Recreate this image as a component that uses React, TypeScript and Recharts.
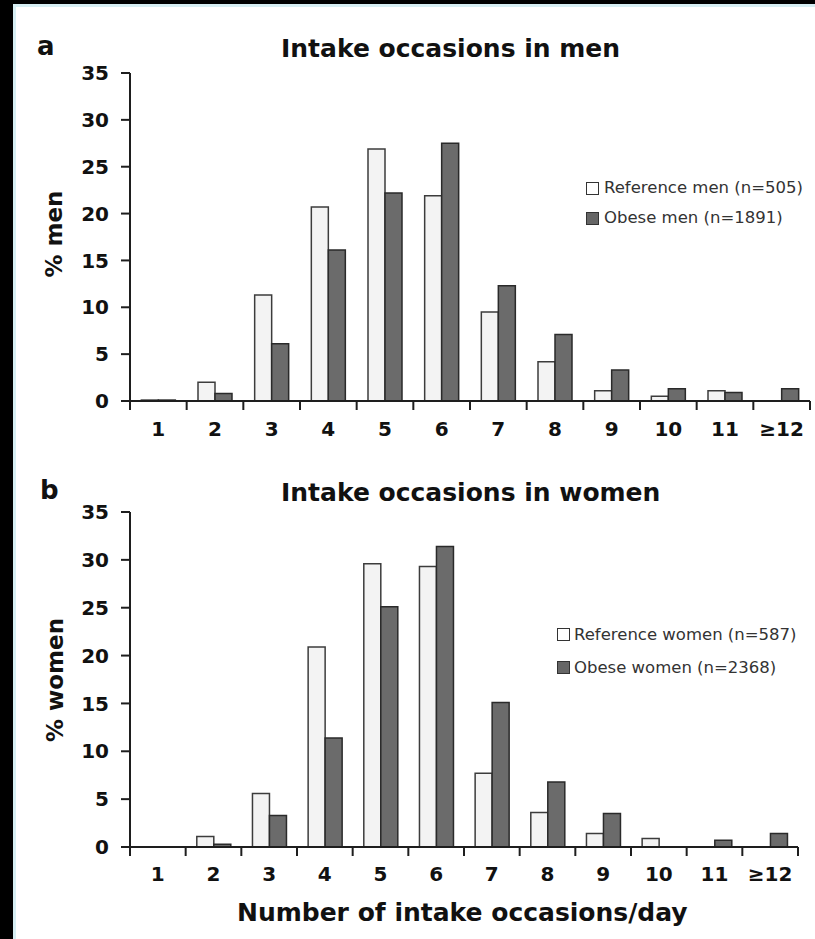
import React from 'react';
import { BarChart, Bar, XAxis, YAxis, Legend } from 'recharts';

const categories = ['1', '2', '3', '4', '5', '6', '7', '8', '9', '10', '11', '≥12'];
const menRef = [0.1, 2.0, 11.3, 20.7, 26.9, 21.9, 9.5, 4.2, 1.1, 0.5, 1.1, 0];
const menObese = [0.1, 0.8, 6.1, 16.1, 22.2, 27.5, 12.3, 7.1, 3.3, 1.3, 0.9, 1.3];
const womenRef = [0, 1.1, 5.6, 20.9, 29.6, 29.3, 7.7, 3.6, 1.4, 0.9, 0, 0];
const womenObese = [0, 0.3, 3.3, 11.4, 25.1, 31.4, 15.1, 6.8, 3.5, 0, 0.7, 1.4];
const yTicks = [0, 5, 10, 15, 20, 25, 30, 35];

const menData = categories.map((c, i) => ({ cat: c, refGroup: menRef[i], obeseGroup: menObese[i] }));
const womenData = categories.map((c, i) => ({ cat: c, refGroup: womenRef[i], obeseGroup: womenObese[i] }));

const FONT = '"DejaVu Sans", sans-serif';
const AX = '#1e1e1e';
const REF_FILL = '#f3f3f3';
const REF_STROKE = '#3c3c3c';
const OB_FILL = '#6b6b6b';
const OB_STROKE = '#2a2a2a';
const TICK_LEN = 9;

type LegendItem = { label: string; fill: string; stroke: string };

function makeLegend(items: LegendItem[], rowH: number, gap: number) {
  return () => (
    <div style={{ fontFamily: FONT, fontSize: 16.5, color: '#333', whiteSpace: 'nowrap' }}>
      {items.map((it) => (
        <div key={it.label} style={{ height: rowH, lineHeight: rowH + 'px', display: 'flex', alignItems: 'center' }}>
          <span
            style={{
              display: 'inline-block',
              width: 11,
              height: 11,
              background: it.fill,
              border: '1px solid ' + it.stroke,
              marginRight: gap,
            }}
          />
          <span>{it.label}</span>
        </div>
      ))}
    </div>
  );
}

function makeXTick(tickMargin: number) {
  return (props: any) => {
    const { x, y, payload, index, visibleTicksCount } = props;
    const half = payload && payload.offset ? payload.offset : 0;
    const axisY = y - tickMargin;
    const last = index === visibleTicksCount - 1;
    return (
      <g>
        <line x1={x - half} x2={x - half} y1={axisY} y2={axisY + TICK_LEN} stroke={AX} strokeWidth={2} />
        {last ? (
          <line x1={x + half} x2={x + half} y1={axisY} y2={axisY + TICK_LEN} stroke={AX} strokeWidth={2} />
        ) : null}
        <text
          x={x}
          y={y}
          dy="0.71em"
          textAnchor="middle"
          fontFamily={FONT}
          fontSize={20}
          fontWeight="bold"
          fill="#111"
        >
          {payload.value}
        </text>
      </g>
    );
  };
}

type PanelProps = {
  data: { cat: string; refGroup: number; obeseGroup: number }[];
  width: number;
  height: number;
  margin: { top: number; right: number; bottom: number; left: number };
  xLabelHeight: number;
  tickMargin: number;
  legendItems: LegendItem[];
  legendPos: { left: number; top: number };
  legendRow: number;
  legendGap: number;
};

function Panel(p: PanelProps) {
  return (
    <BarChart
      width={p.width}
      height={p.height}
      data={p.data}
      margin={p.margin}
      barCategoryGap="20%"
      barGap={0}
    >
      <XAxis
        dataKey="cat"
        height={p.xLabelHeight}
        axisLine={{ stroke: AX, strokeWidth: 2 }}
        tickLine={false}
        tickSize={0}
        tickMargin={p.tickMargin}
        interval={0}
        tick={makeXTick(p.tickMargin)}
      />
      <YAxis
        width={130}
        domain={[0, 35]}
        ticks={yTicks}
        interval={0}
        allowDataOverflow
        tickSize={9}
        tickMargin={12}
        axisLine={{ stroke: AX, strokeWidth: 2 }}
        tickLine={{ stroke: AX, strokeWidth: 2 }}
        tick={{ fontFamily: FONT, fontSize: 20, fontWeight: 'bold', fill: '#111' }}
      />
      <Legend
        layout="vertical"
        align="center"
        verticalAlign="middle"
        wrapperStyle={{ left: p.legendPos.left, top: p.legendPos.top, width: 'auto', height: 'auto' }}
        content={makeLegend(p.legendItems, p.legendRow, p.legendGap)}
      />
      <Bar dataKey="refGroup" fill={REF_FILL} stroke={REF_STROKE} strokeWidth={1.5} isAnimationActive={false} />
      <Bar dataKey="obeseGroup" fill={OB_FILL} stroke={OB_STROKE} strokeWidth={1.5} isAnimationActive={false} />
    </BarChart>
  );
}

export default function App() {
  return (
    <div style={{ position: 'absolute', left: 0, top: 0, width: 815, height: 939, background: '#000', overflow: 'hidden' }}>
      <div
        style={{
          position: 'absolute',
          left: 13,
          top: 4,
          width: 820,
          height: 950,
          background: '#fff',
          borderLeft: '3px solid #d6eef3',
          borderTop: '3px solid #d6eef3',
          boxSizing: 'border-box',
        }}
      />
      <div style={{ position: 'absolute', left: 0, top: 0 }}>
        <Panel
          data={menData}
          width={815}
          height={460}
          margin={{ top: 73, right: 5, bottom: 0, left: 0 }}
          xLabelHeight={59}
          tickMargin={21}
          legendItems={[
            { label: 'Reference men (n=505)', fill: '#ffffff', stroke: '#333' },
            { label: 'Obese men (n=1891)', fill: '#666', stroke: '#333' },
          ]}
          legendPos={{ left: 586, top: 173 }}
          legendRow={30}
          legendGap={5}
        />
      </div>
      <div style={{ position: 'absolute', left: 0, top: 460 }}>
        <Panel
          data={womenData}
          width={815}
          height={479}
          margin={{ top: 52, right: 17, bottom: 0, left: 0 }}
          xLabelHeight={92}
          tickMargin={20}
          legendItems={[
            { label: 'Reference women (n=587)', fill: '#ffffff', stroke: '#333' },
            { label: 'Obese women (n=2368)', fill: '#666', stroke: '#333' },
          ]}
          legendPos={{ left: 557, top: 158 }}
          legendRow={33}
          legendGap={4}
        />
      </div>
      <svg
        width={815}
        height={939}
        style={{ position: 'absolute', left: 0, top: 0, pointerEvents: 'none' }}
      >
        <g fontFamily={FONT} fontWeight="bold" fill="#111">
          <text x={37} y={55} fontSize={26}>a</text>
          <text x={281} y={57} fontSize={25}>Intake occasions in men</text>
          <text x={40} y={499} fontSize={26}>b</text>
          <text x={281} y={501} fontSize={25}>Intake occasions in women</text>
          <text x={237} y={921} fontSize={25}>Number of intake occasions/day</text>
          <text transform="translate(62,234) rotate(-90)" textAnchor="middle" fontSize={23}>% men</text>
          <text transform="translate(63,680) rotate(-90)" textAnchor="middle" fontSize={23}>% women</text>
        </g>
      </svg>
    </div>
  );
}
